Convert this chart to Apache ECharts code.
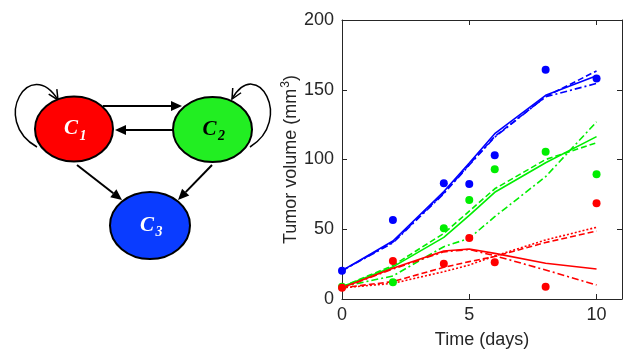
<!DOCTYPE html>
<html><head><meta charset="utf-8">
<script src="https://cdn.jsdelivr.net/npm/echarts@6/dist/echarts.min.js"></script>
<style>html,body{margin:0;padding:0;background:#fff}#c{width:625px;height:350px}</style>
</head><body><div id="c"></div>
<script>
// ---- data ----
const days = [0, 2, 4, 5, 6, 8, 10];
const obsBlue  = [20.3, 56.6, 83, 82.5, 103, 164.4, 158];
const obsGreen = [8.8, 12, 50.7, 71, 93, 105.6, 89.4];
const obsRed   = [8, 27.2, 25.3, 43.7, 26.3, 8.8, 68.6];

const blueSolid   = [20.3, 41.6, 77, 97.5, 118.5, 146, 160];
const blueDashed  = [20.3, 40.8, 76, 96.5, 116.5, 145, 163.5];
const blueDashDot = [20.3, 40.2, 75.5, 96, 116, 145, 154.5];

const greenSolid   = [8.8, 23, 44.2, 60, 76.5, 97.7, 116.4];
const greenDashed  = [8.8, 24, 47, 63, 79, 100, 112];
const greenDashDot = [8.8, 16.5, 37.5, 43.5, 59, 87.7, 127];

const redSolid   = [8, 22, 34.4, 35.8, 32.7, 25.6, 21.5];
const redDashed  = [8, 21.5, 33.8, 35.5, 31, 20.8, 10];
const redDotted  = [8, 11.2, 19.6, 24.4, 30.8, 42.3, 51.4];
const redDashDot = [8, 12.5, 22.7, 26.8, 30.5, 40.5, 48.7];

const xTickLabels = [0, 5, 10];
const yTickLabels = [0, 50, 100, 150, 200];
const nodeLabels = ['C', 'C', 'C'];
const nodeSubs = ['1', '2', '3'];

// ---- helpers ----
const pair = (ys) => days.map((d, i) => [d, ys[i]]);
const AX = '#262626';
const BLUE = '#0000ff', GREEN = '#00ee00', RED = '#ff0000';
const DASH = [6, 3], DASHDOT = [7, 3, 2, 3], DOT = [2, 2];

function lineSeries(ys, color, type) {
  return { type: 'line', data: pair(ys), showSymbol: false, symbol: 'none', z: 2,
    lineStyle: { color: color, width: 1.6, type: type } };
}
function scatterSeries(ys, color) {
  return { type: 'scatter', data: pair(ys), symbolSize: 8, z: 5,
    itemStyle: { color: color, opacity: 1 } };
}

// diagram graphics
const g = [];
function arrow(x1, y1, x2, y2) {
  const L = 11, W = 5;
  const dx = x2 - x1, dy = y2 - y1, len = Math.hypot(dx, dy);
  const ux = dx / len, uy = dy / len;
  const bx = x2 - ux * L, by = y2 - uy * L;
  g.push({ type: 'line', shape: { x1: x1, y1: y1, x2: bx, y2: by },
    style: { stroke: '#000', lineWidth: 2 } });
  g.push({ type: 'polygon', shape: { points: [[x2, y2], [bx - uy * W, by + ux * W], [bx + uy * W, by - ux * W]] },
    style: { fill: '#000' } });
}
function loop(x1, y1, c1x, c1y, c2x, c2y, x2, y2) {
  g.push({ type: 'bezierCurve', shape: { x1: x1, y1: y1, cpx1: c1x, cpy1: c1y, cpx2: c2x, cpy2: c2y, x2: x2, y2: y2 },
    style: { stroke: '#000', lineWidth: 1.5, fill: null } });
  const dx = x2 - c2x, dy = y2 - c2y, len = Math.hypot(dx, dy);
  const ux = dx / len, uy = dy / len, A = 11, ang = 0.45;
  const r = (a) => [x2 - A * (ux * Math.cos(a) - uy * Math.sin(a)), y2 - A * (uy * Math.cos(a) + ux * Math.sin(a))];
  g.push({ type: 'polyline', shape: { points: [r(ang), [x2, y2], r(-ang)] },
    style: { stroke: '#000', lineWidth: 1.5, fill: null } });
}
function node(cx, cy, rx, ry, fill, txtColor, idx) {
  g.push({ type: 'ellipse', shape: { cx: cx, cy: cy, rx: rx, ry: ry },
    style: { fill: fill, stroke: '#000', lineWidth: 2 }, z: 10 });
  g.push({ type: 'text', x: cx - 3, y: cy, z: 11,
    style: { text: nodeLabels[idx], fill: txtColor, font: 'italic bold 21px "Liberation Serif"',
      align: 'center', verticalAlign: 'middle' } });
  g.push({ type: 'text', x: cx + 9, y: cy + 7, z: 11,
    style: { text: nodeSubs[idx], fill: txtColor, font: 'italic bold 14px "Liberation Serif"',
      align: 'center', verticalAlign: 'middle' } });
}

loop(37, 147, -10, 120, 30, 55, 58, 100);
loop(250, 147, 294, 120, 257, 55, 232, 99);
arrow(103, 106, 182, 106);
arrow(173, 130, 115, 130);
arrow(77, 165, 122, 200);
arrow(212, 165, 178, 200);
node(74, 129, 39, 32.5, '#ff0000', '#ffffff', 0);
node(212.5, 129.5, 39.5, 32.5, '#22ee22', '#000000', 1);
node(150, 225.5, 40, 33.5, '#0a3cff', '#ffffff', 2);

const chart = echarts.init(document.getElementById('c'), null, { renderer: 'canvas' });
const axisCommon = {
  type: 'value',
  axisLine: { show: true, onZero: false, lineStyle: { color: AX, width: 1 } },
  axisTick: { show: true, inside: true, length: 5, lineStyle: { color: AX, width: 1 } },
  splitLine: { show: false }
};
chart.setOption({
  animation: false,
  textStyle: { fontFamily: '"Liberation Sans", Arial, sans-serif' },
  grid: { left: 342, right: 3, top: 20, bottom: 51, containLabel: false, outerBoundsMode: 'none' },
  xAxis: [
    Object.assign({}, axisCommon, {
      min: 0, max: 11, interval: 5, position: 'bottom',
      axisLabel: { fontSize: 18, color: AX, margin: 7, showMaxLabel: false,
        formatter: (v) => xTickLabels.indexOf(v) >= 0 ? String(v) : '' },
      name: 'Time (days)', nameLocation: 'middle', nameGap: 32,
      nameTextStyle: { fontSize: 18, color: AX }
    }),
    Object.assign({}, axisCommon, {
      min: 0, max: 11, interval: 5, position: 'top', axisLabel: { show: false }
    })
  ],
  yAxis: [
    Object.assign({}, axisCommon, {
      min: 0, max: 200, interval: 50, position: 'left',
      axisLabel: { fontSize: 18, color: AX, margin: 8,
        formatter: (v) => yTickLabels.indexOf(v) >= 0 ? String(v) : '' },
      name: '{a|Tumor volume (mm}{b|3}{a|)}', nameLocation: 'middle', nameGap: 40, nameRotate: 90,
      nameTextStyle: { color: AX, rich: {
        a: { fontSize: 18, color: AX, verticalAlign: 'bottom', fontFamily: '"Liberation Sans", Arial, sans-serif' },
        b: { fontSize: 12, color: AX, verticalAlign: 'bottom', padding: [0, 0, 8, 1], fontFamily: '"Liberation Sans", Arial, sans-serif' } } }
    }),
    Object.assign({}, axisCommon, {
      min: 0, max: 200, interval: 50, position: 'right', axisLabel: { show: false }
    })
  ],
  graphic: g,
  series: [
    lineSeries(blueSolid, BLUE, 'solid'),
    lineSeries(blueDashed, BLUE, DASH),
    lineSeries(blueDashDot, BLUE, DASHDOT),
    lineSeries(greenSolid, GREEN, 'solid'),
    lineSeries(greenDashed, GREEN, DASH),
    lineSeries(greenDashDot, GREEN, DASHDOT),
    lineSeries(redSolid, RED, 'solid'),
    lineSeries(redDashed, RED, DASHDOT),
    lineSeries(redDotted, RED, DOT),
    lineSeries(redDashDot, RED, DASH),
    scatterSeries(obsBlue, BLUE),
    scatterSeries(obsGreen, GREEN),
    scatterSeries(obsRed, RED)
  ]
});
</script>
</body></html>
